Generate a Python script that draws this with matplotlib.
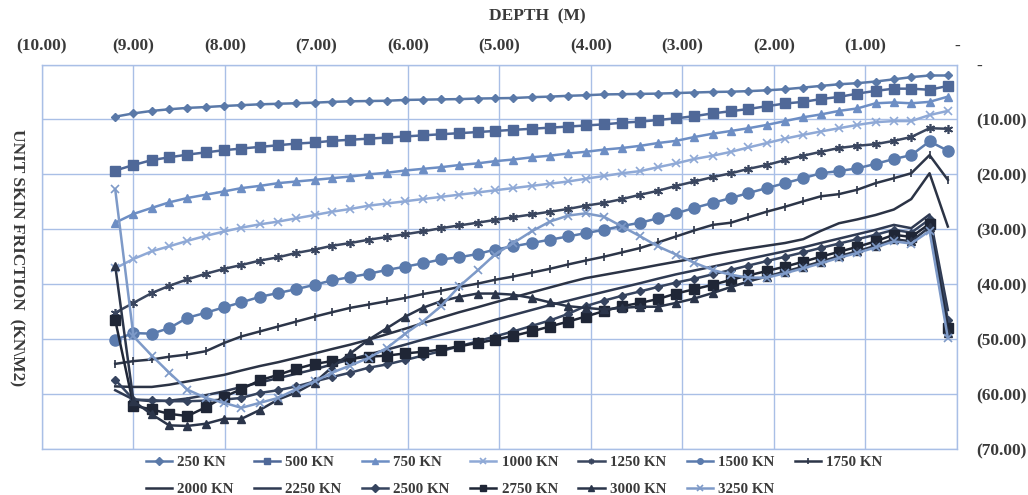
import matplotlib
matplotlib.use("Agg")
import matplotlib.pyplot as plt
from matplotlib.ticker import FuncFormatter, MultipleLocator

depth = [-9.20, -9.00, -8.80, -8.61, -8.41, -8.21, -8.01, -7.82, -7.62, -7.42,
         -7.22, -7.02, -6.83, -6.63, -6.43, -6.23, -6.03, -5.84, -5.64, -5.44,
         -5.24, -5.05, -4.85, -4.65, -4.45, -4.25, -4.06, -3.86, -3.66, -3.46,
         -3.27, -3.07, -2.87, -2.67, -2.47, -2.28, -2.08, -1.88, -1.68, -1.49,
         -1.29, -1.09, -0.89, -0.69, -0.50, -0.30, -0.10]

f250 = [-9.5, -8.9, -8.45, -8.15, -7.9, -7.75, -7.55, -7.4, -7.25, -7.15,
        -7.05, -6.95, -6.8, -6.7, -6.65, -6.6, -6.45, -6.4, -6.35, -6.3,
        -6.2, -6.15, -6.1, -5.95, -5.85, -5.7, -5.6, -5.45, -5.4, -5.35,
        -5.3, -5.2, -5.1, -5.0, -4.95, -4.85, -4.7, -4.5, -4.2, -3.9,
        -3.6, -3.4, -3.1, -2.7, -2.3, -2.0, -2.0]
f500 = [-19.3, -18.3, -17.4, -16.9, -16.4, -16.0, -15.6, -15.3, -15.0, -14.7,
        -14.4, -14.2, -13.9, -13.7, -13.5, -13.3, -13.1, -12.9, -12.7, -12.5,
        -12.3, -12.1, -11.9, -11.7, -11.5, -11.3, -11.1, -10.9, -10.6, -10.4,
        -10.1, -9.8, -9.4, -8.9, -8.5, -8.1, -7.6, -7.1, -6.8, -6.3,
        -5.9, -5.3, -4.8, -4.4, -4.4, -4.6, -3.9]
f750 = [-28.8, -27.2, -26.1, -25.1, -24.3, -23.7, -23.1, -22.5, -22.1, -21.6,
        -21.3, -21.0, -20.7, -20.4, -20.0, -19.7, -19.3, -19.0, -18.7, -18.3,
        -18.0, -17.6, -17.3, -16.9, -16.6, -16.2, -15.9, -15.5, -15.2, -14.8,
        -14.3, -13.9, -13.2, -12.6, -12.1, -11.6, -11.0, -10.3, -9.6, -9.1,
        -8.45, -8.0, -7.06, -6.9, -7.06, -6.8, -5.85]
f1000 = [-37.1, -35.4, -34.0, -33.1, -32.1, -31.2, -30.4, -29.7, -29.1, -28.6,
         -28.0, -27.4, -26.8, -26.3, -25.7, -25.3, -24.9, -24.5, -24.1, -23.7,
         -23.3, -22.9, -22.5, -22.1, -21.7, -21.3, -20.8, -20.3, -19.8, -19.4,
         -18.7, -18.0, -17.2, -16.6, -15.9, -15.1, -14.3, -13.5, -12.8, -12.2,
         -11.6, -11.0, -10.5, -10.3, -10.3, -9.2, -8.45]
f1250 = [-45.2, -43.4, -41.6, -40.3, -39.1, -38.1, -37.2, -36.5, -35.7, -35.1,
         -34.3, -33.7, -33.0, -32.5, -31.9, -31.4, -30.9, -30.4, -29.8, -29.3,
         -28.8, -28.3, -27.8, -27.3, -26.8, -26.3, -25.7, -25.2, -24.5, -23.7,
         -23.0, -22.1, -21.3, -20.5, -19.8, -19.0, -18.3, -17.4, -16.6, -15.9,
         -15.2, -14.8, -14.5, -13.9, -13.2, -11.6, -11.7]
f1500 = [-50.1, -48.9, -49.0, -48.0, -46.1, -45.2, -44.2, -43.3, -42.3, -41.6,
         -40.9, -40.1, -39.3, -38.7, -38.1, -37.4, -36.8, -36.2, -35.5, -35.1,
         -34.5, -33.7, -33.1, -32.5, -31.9, -31.3, -30.7, -30.1, -29.4, -28.8,
         -28.0, -27.1, -26.1, -25.2, -24.3, -23.4, -22.5, -21.6, -20.7, -19.8,
         -19.4, -18.9, -18.1, -17.2, -16.5, -14.0, -15.7]
f1750 = [-54.5, -54.0, -53.7, -53.2, -52.8, -52.2, -50.7, -49.5, -48.6, -47.7,
         -46.8, -45.9, -45.1, -44.3, -43.7, -43.1, -42.5, -41.8, -41.2, -40.5,
         -39.9, -39.2, -38.6, -37.9, -37.2, -36.4, -35.7, -35.0, -34.2, -33.4,
         -32.4, -31.3, -30.2, -29.2, -28.8, -27.8, -26.8, -25.9, -24.9, -24.0,
         -23.6, -22.8, -21.6, -20.7, -19.8, -16.5, -21.0]
f2000 = [-58.6, -58.7, -58.7, -58.3, -57.7, -57.1, -56.5, -55.7, -54.9, -54.2,
         -53.4, -52.6, -51.8, -51.0, -50.1, -49.1, -48.1, -47.1, -46.1, -45.1,
         -44.2, -43.3, -42.4, -41.5, -40.6, -39.7, -38.9, -38.3, -37.7, -37.1,
         -36.5, -35.9, -35.3, -34.6, -34.0, -33.5, -33.0, -32.5, -31.8, -30.3,
         -28.9, -28.2, -27.4, -26.4, -24.5, -19.8, -29.5]
f2250 = [-59.3, -61.0, -61.3, -61.2, -60.8, -60.2, -59.5, -58.7, -57.9, -57.1,
         -56.3, -55.5, -54.6, -53.7, -52.8, -51.9, -51.0, -50.1, -49.2, -48.3,
         -47.4, -46.5, -45.6, -44.7, -43.8, -43.0, -42.2, -41.4, -40.6, -39.8,
         -39.0, -38.2, -37.5, -36.8, -36.1, -35.4, -34.7, -34.0, -33.3, -32.5,
         -31.7, -30.9, -30.1, -29.2, -29.8, -27.3, -44.7]
f2500 = [-57.4, -61.0, -61.1, -61.3, -61.3, -61.2, -61.0, -60.7, -59.8, -59.3,
         -58.6, -57.7, -56.9, -56.1, -55.2, -54.6, -53.8, -53.0, -52.2, -51.3,
         -50.4, -49.5, -48.6, -47.6, -46.6, -45.4, -44.0, -43.0, -42.1, -41.3,
         -40.5, -39.7, -39.0, -38.2, -37.4, -36.6, -35.8, -35.0, -34.2, -33.4,
         -32.6, -31.8, -31.0, -30.1, -30.6, -28.2, -46.5]
f2750 = [-46.5, -62.1, -62.8, -63.6, -64.0, -62.4, -60.5, -59.1, -57.5, -56.5,
         -55.4, -54.5, -54.0, -53.6, -53.2, -53.0, -52.6, -52.3, -51.9, -51.3,
         -50.7, -50.1, -49.4, -48.6, -47.7, -46.8, -45.9, -44.9, -44.0, -43.4,
         -42.7, -41.7, -40.9, -40.1, -39.2, -38.4, -37.6, -36.8, -35.9, -35.0,
         -34.1, -33.2, -32.2, -31.0, -31.4, -29.0, -48.0]
f3000 = [-36.6, -61.3, -63.7, -65.7, -65.8, -65.4, -64.5, -64.5, -62.9, -61.0,
         -59.7, -57.9, -55.1, -52.6, -50.1, -48.0, -45.9, -44.3, -43.1, -42.3,
         -41.7, -41.7, -41.9, -42.5, -43.3, -44.0, -44.3, -44.6, -44.3, -44.1,
         -44.1, -43.4, -42.6, -41.6, -40.5, -39.5, -38.6, -37.7, -36.8, -35.9,
         -34.9, -34.0, -33.0, -31.8, -32.2, -29.6, -48.8]
f3250 = [-22.7, -49.5, -53.0, -56.1, -59.2, -60.7, -61.6, -62.5, -61.6, -60.7,
         -59.1, -57.7, -56.1, -54.8, -53.4, -51.6, -49.0, -46.8, -44.0, -40.4,
         -37.5, -34.6, -32.5, -30.4, -28.6, -27.5, -27.1, -27.7, -29.5, -31.3,
         -33.1, -34.6, -36.1, -37.4, -38.3, -38.8, -38.8, -38.0, -37.1, -36.2,
         -35.2, -34.3, -33.3, -32.2, -32.6, -30.3, -49.8]

labels = ["250 KN", "500 KN", "750 KN", "1000 KN", "1250 KN", "1500 KN", "1750 KN",
          "2000 KN", "2250 KN", "2500 KN", "2750 KN", "3000 KN", "3250 KN"]
series = [f250, f500, f750, f1000, f1250, f1500, f1750,
          f2000, f2250, f2500, f2750, f3000, f3250]

styles = [
    dict(color="#5a79a8", marker="D", ms=4.5),
    dict(color="#4f6898", marker="s", ms=6.5),
    dict(color="#6d8ec4", marker="^", ms=6),
    dict(color="#8fa9d6", marker="x", ms=6, mew=1.2),
    dict(color="#3a465f", marker=(6, 2, 0), ms=6.5, mew=1.2),
    dict(color="#5b7bad", marker="o", ms=8),
    dict(color="#2c3548", marker="|", ms=6, mew=1.2),
    dict(color="#2b3345", marker=None, ms=0),
    dict(color="#2f3a52", marker=None, ms=0),
    dict(color="#36445f", marker="D", ms=4.5),
    dict(color="#1f2636", marker="s", ms=6.5),
    dict(color="#2b354a", marker="^", ms=6),
    dict(color="#7e9ac8", marker="x", ms=6, mew=1.2),
]

font = "Liberation Serif"
grid_c = "#a9bfe6"
text_c = "#3a3a3a"

fig = plt.figure(figsize=(10.28, 4.95), dpi=100)
ax = fig.add_axes([42 / 1028, 1 - 449 / 495, (957 - 42) / 1028, (449 - 64.5) / 495])

handles = []
for lab, ys, st in zip(labels, series, styles):
    kw = dict(color=st["color"], lw=1.8, label=lab)
    if st["marker"] is not None:
        kw.update(marker=st["marker"], markersize=st["ms"],
                  markeredgewidth=st.get("mew", 1.0), markeredgecolor=st["color"],
                  markerfacecolor=st["color"])
    h, = ax.plot(depth, ys, **kw)
    handles.append(h)

ax.set_xlim(-10, 0)
ax.set_ylim(-70, 0)
ax.xaxis.set_major_locator(MultipleLocator(1))
ax.yaxis.set_major_locator(MultipleLocator(10))


def acct(v, pos):
    if abs(v) < 1e-9:
        return "-"
    return "({:.2f})".format(abs(v)) if v < 0 else "{:.2f}".format(v)


ax.xaxis.set_major_formatter(FuncFormatter(acct))
ax.yaxis.set_major_formatter(FuncFormatter(acct))
ax.xaxis.tick_top()
ax.yaxis.tick_right()
ax.tick_params(axis="both", length=0, labelsize=12.5, colors=text_c)
ax.tick_params(axis="x", pad=7)
ax.tick_params(axis="y", pad=14)
for lab in ax.get_xticklabels() + ax.get_yticklabels():
    lab.set_fontfamily(font)
    lab.set_fontweight("bold")
ax.grid(True, color=grid_c, lw=1.0)
ax.set_axisbelow(True)
for sp in ax.spines.values():
    sp.set_color(grid_c)
    sp.set_linewidth(1.0)

fig.text(537 / 1028, 1 - 16 / 495, "DEPTH  (M)", ha="center", va="center",
         fontsize=12.5, fontweight="bold", family=font, color=text_c)
fig.text(17 / 1028, 1 - 258 / 495, "UNIT SKIN FRICTION  (KN\\M2)", ha="center",
         va="center", rotation=270, fontsize=12.5, fontweight="bold", family=font,
         color=text_c)

order = []
row1 = list(range(7))
row2 = list(range(7, 13))
for j in range(7):
    order.append(row1[j])
    if j < len(row2):
        order.append(row2[j])
leg = fig.legend([handles[i] for i in order], [labels[i] for i in order],
                 loc="upper center", bbox_to_anchor=(514 / 1028, 1 - 456 / 495),
                 ncol=7, frameon=False, handlelength=1.75, columnspacing=1.35,
                 handletextpad=0.35, labelspacing=0.85, borderpad=0.0,
                 borderaxespad=0.0,
                 prop=dict(family=font, weight="bold", size=10.8))
for t in leg.get_texts():
    t.set_color(text_c)
for lh in leg.legend_handles:
    lh.set_markersize(4)

fig.savefig("out.png", dpi=100)
